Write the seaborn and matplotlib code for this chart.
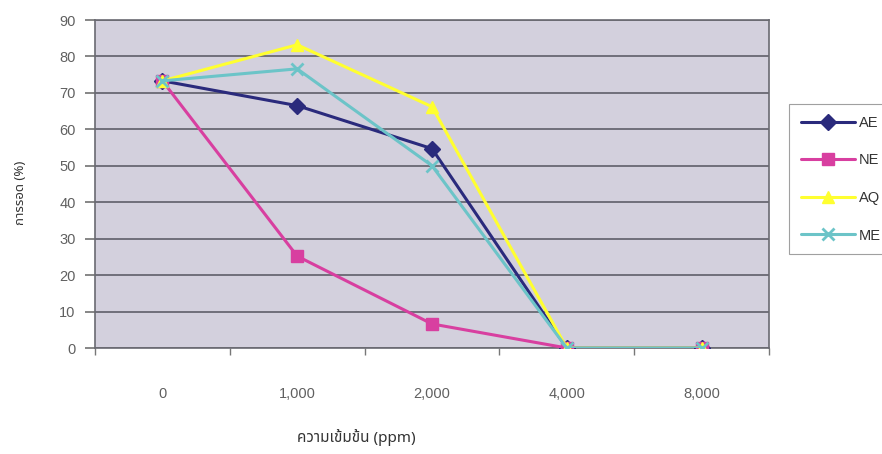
import matplotlib
matplotlib.use("Agg")
import matplotlib.pyplot as plt
from matplotlib import font_manager
from matplotlib.ft2font import FT2Font
import seaborn as sns
import pandas as pd

# ---- data ----
concentrations = ["0", "1,000", "2,000", "4,000", "8,000"]
ae = [73.3, 66.5, 54.7, 0, 0]
ne = [73.3, 25.2, 6.6, 0, 0]
aq = [73.3, 83.2, 66.2, 0, 0]
me = [73.3, 76.6, 50.0, 0, 0]
series_names = ["AE", "NE", "AQ", "ME"]
y_ticks = [0, 10, 20, 30, 40, 50, 60, 70, 80, 90]
x_title = "ความเข้มข้น (ppm)"
y_title = "การรอด (%)"

# ---- find a proportional font with Thai glyphs ----
candidates = []
for path in font_manager.findSystemFonts():
    try:
        f = FT2Font(path)
        cmap = f.get_charmap()
        if 0x0E01 in cmap and 0x0E40 in cmap:
            candidates.append(font_manager.FontProperties(fname=path).get_name())
    except Exception:
        continue
prefs = ["Noto Sans Thai", "Loma", "Garuda", "Waree", "Umpush", "Sawasdee",
         "Tlwg Typist", "Kinnari", "Norasi", "Laksaman", "Purisa"]
thai_family = None
for p in prefs:
    if p in candidates:
        thai_family = p
        break
if thai_family is None:
    nonmono = [c for c in candidates if "Mono" not in c and "Typ" not in c]
    if nonmono:
        thai_family = nonmono[0]
    elif candidates:
        thai_family = candidates[0]

sns.set_theme(style="white")
families = ["Liberation Sans"] + ([thai_family] if thai_family else []) + ["DejaVu Sans"]
plt.rcParams["font.family"] = families
thai_fams = ([thai_family] if thai_family else []) + ["Liberation Sans", "DejaVu Sans"]

fig = plt.figure(figsize=(8.82, 4.54), dpi=100)
ax = fig.add_axes([95 / 882, 1 - 348 / 454, (769 - 95) / 882, (348 - 20) / 454])
ax.set_facecolor("#d3d0dd")

colors = ["#2a2a7c", "#d83fa0", "#ffff30", "#6cc4c8"]
markers = ["D", "s", "^", "x"]
msizes = [8, 9, 9, 9]
values = [ae, ne, aq, me]

rows = []
for name, vals in zip(series_names, values):
    for i, v in enumerate(vals):
        rows.append({"series": name, "x": i, "value": v})
df = pd.DataFrame(rows)

for name, c, m, ms in zip(series_names, colors, markers, msizes):
    sub = df[df["series"] == name]
    sns.lineplot(data=sub, x="x", y="value", ax=ax, color=c, marker=m,
                 markersize=ms, markeredgecolor=c, markerfacecolor=c,
                 markeredgewidth=2 if m == "x" else 1,
                 linewidth=2.2, label=name, legend=False, zorder=3)

ax.set_xlim(-0.5, len(concentrations) - 0.5)
ax.set_ylim(0, 90)
ax.set_yticks(y_ticks)
ax.set_yticklabels([str(t) for t in y_ticks])
ax.set_xticks(range(len(concentrations)))
ax.set_xticklabels(concentrations)
ax.set_xticks([i + 0.5 for i in range(-1, len(concentrations))], minor=True)
ax.tick_params(axis="x", which="major", length=0, pad=28, labelsize=10.5, labelcolor="#606060")
ax.tick_params(axis="x", which="minor", length=5, color="#777777", width=1, bottom=True)
ax.tick_params(axis="y", length=7, pad=7, labelsize=10.5, labelcolor="#606060",
               color="#777777", left=True)
ax.grid(axis="y", color="#55555f", linewidth=1.1)
ax.set_axisbelow(True)
for s in ax.spines.values():
    s.set_color("#6a6a72")
    s.set_linewidth(1.2)
ax.set_xlabel("")
ax.set_ylabel("")

fig.text(356 / 882, 1 - 438 / 454, x_title, ha="center", va="center",
         fontsize=11, color="#333333", family=thai_fams)
fig.text(20 / 882, 1 - 193 / 454, y_title, ha="center", va="center",
         rotation=90, fontsize=9.5, color="#333333", family=thai_fams)

leg = fig.legend(loc="upper left", bbox_to_anchor=(789 / 882, 1 - 104 / 454),
                 borderaxespad=0, frameon=True, fontsize=10.5, handlelength=3.7,
                 labelspacing=1.62, borderpad=0.8, handletextpad=0.3, fancybox=False)
leg.get_frame().set_edgecolor("#888888")
leg.get_frame().set_linewidth(0.8)
for t in leg.get_texts():
    t.set_color("#333333")

fig.savefig("out.png", dpi=100)
